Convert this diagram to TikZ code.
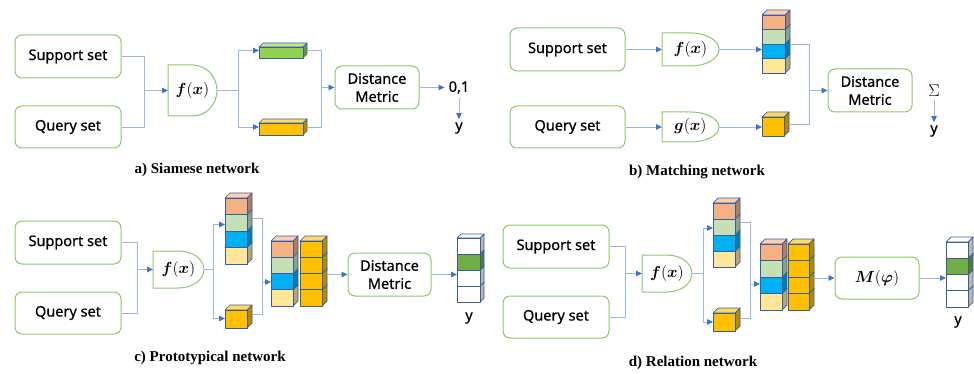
\RequirePackage{fix-cm}
\documentclass[tikz,border=0pt]{standalone}
\usepackage{amsmath}
\usepackage{fontspec}
\newfontfamily\labelfont[FakeBold=0.6]{Noto Sans}
\newfontfamily\capfont{Liberation Serif}
\usetikzlibrary{arrows.meta}

\definecolor{boxgreen}{HTML}{8FC66B}
\definecolor{lineblue}{HTML}{9DB6E2}
\definecolor{tipblue}{HTML}{4472C4}
\definecolor{edgeblue}{HTML}{3B5C9C}
\definecolor{salmon}{HTML}{F4B183}
\definecolor{sage}{HTML}{C5E0B4}
\definecolor{sky}{HTML}{00B0F0}
\definecolor{cream}{HTML}{FFE699}
\definecolor{amber}{HTML}{FFC000}
\definecolor{barGreen}{HTML}{92D050}
\definecolor{cellGreen}{HTML}{70AD47}

\tikzset{
  setbox/.style={draw=boxgreen, line width=1pt, rounded corners=7pt, fill=white,
    align=center, inner sep=0pt, font=\labelfont\fontsize{14.5}{18}\selectfont},
  gatefrm/.style={draw=boxgreen, line width=1pt, fill=white},
  mathlbl/.style={font=\fontsize{16}{19}\selectfont},
  plain/.style={inner sep=3pt, font=\labelfont\fontsize{14.5}{18}\selectfont},
  outy/.style={inner sep=3pt, font=\labelfont\bfseries\fontsize{14.5}{18}\selectfont},
  caption/.style={inner sep=0pt, font=\capfont\bfseries\fontsize{15}{18}\selectfont},
  conn/.style={draw=lineblue, line width=0.9pt},
  arr/.style={conn, -{Triangle[length=6pt,width=5.5pt,color=tipblue]}},
  cubeline/.style={draw=edgeblue, line width=0.7pt, line join=round},
  hold/.style={inner sep=0pt, outer sep=0pt, draw=none},
}

% D-shaped function block: name, left, top, right, bottom, label
\newcommand\gatebox[6]{%
  \pgfmathsetmacro\gmid{(#2+#4)/2}%
  \pgfmathsetmacro\grx{(#4-#2)/2}%
  \pgfmathsetmacro\gry{(#5-#3)/2}%
  \pgfmathsetmacro\gcy{(#3+#5)/2}%
  \pgfmathsetmacro\gw{#4-#2}%
  \pgfmathsetmacro\gh{#5-#3}%
  \draw[gatefrm] (#2,#3) -- (\gmid,#3)
    arc[start angle=90, end angle=-90, x radius=\grx pt, y radius=\gry pt]
    -- (#2,#5) -- cycle;
  \node[hold, mathlbl, minimum width=\gw pt, minimum height=\gh pt] (#1) at (\gmid,\gcy) {#6};
}

% one cube: left, top, width, height, depth, colour
\newcommand\cubeat[6]{%
  \filldraw[cubeline, fill=#6!60!white] (#1,#2) -- ++(#5,-#5) -- ++(#3,0) -- ++(-#5,#5) -- cycle;
  \filldraw[cubeline, fill=#6!72!black] (#1+#3,#2) -- ++(#5,-#5) -- ++(0,#4) -- ++(-#5,#5) -- cycle;
  \filldraw[cubeline, fill=#6] (#1,#2) rectangle ++(#3,#4);
}

% column of four cubes, colours listed top to bottom
\newcommand\colstack[9]{%
  \cubeat{#1}{#2+3*#4}{#3}{#4}{#5}{#9}
  \cubeat{#1}{#2+2*#4}{#3}{#4}{#5}{#8}
  \cubeat{#1}{#2+#4}{#3}{#4}{#5}{#7}
  \cubeat{#1}{#2}{#3}{#4}{#5}{#6}
}

\begin{document}
\begin{tikzpicture}[x=1pt,y=-1pt]
\useasboundingbox[fill=white] (0,0) rectangle (974,374);

% ---------------- a) Siamese network ----------------
\node[setbox, minimum width=106pt, minimum height=43pt] (sa) at (68,56.5) {Support set};
\node[setbox, minimum width=106pt, minimum height=42pt] (qa) at (68,127) {Query set};
\gatebox{fa}{168}{65}{217}{116}{$\boldsymbol{f}(\boldsymbol{x})$}
\cubeat{259}{47}{44}{11}{4}{barGreen}
\node[hold, minimum width=48pt, minimum height=15pt] (ga) at (283,50.5) {};
\cubeat{259}{123}{44}{12}{4}{amber}
\node[hold, minimum width=48pt, minimum height=16pt] (oa) at (283,127) {};
\node[setbox, minimum width=84pt, minimum height=43pt] (dma) at (377,87.5) {Distance\\Metric};
\node[plain, inner sep=4pt] (outa) at (459,87.5) {0,1};
\node[outy] (ya) at (459,128) {y};
\node[caption] (capa) at (197,170) {a) Siamese network};

\coordinate (ja) at (144,90.5);
\draw[conn] (sa.east) -| (ja);
\draw[conn] (qa.east) -| (ja);
\draw[arr] (ja) -- (fa.west);
\coordinate (jb) at (238,90.5);
\draw[conn] (fa.east) -- (jb);
\draw[arr] (jb) |- (ga.west);
\draw[arr] (jb) |- (oa.west);
\coordinate (jc) at (321,87.5);
\draw[conn] (ga.east) -| (jc);
\draw[conn] (oa.east) -| (jc);
\draw[arr] (jc) -- (dma.west);
\draw[arr] (dma.east) -- (outa.west);
\draw[arr] (outa.south) -- (ya.north);

% ---------------- b) Matching network ----------------
\node[setbox, minimum width=115pt, minimum height=43pt] (sb) at (567.5,49.5) {Support set};
\node[setbox, minimum width=115pt, minimum height=42pt] (qb) at (567.5,127) {Query set};
\gatebox{fb}{662}{33}{719}{66}{$\boldsymbol{f}(\boldsymbol{x})$}
\gatebox{gb}{662}{112}{719}{142}{$\boldsymbol{g}(\boldsymbol{x})$}
\colstack{762}{15}{23}{14.5}{5}{salmon}{sage}{sky}{cream}
\node[hold, minimum width=28pt, minimum height=63pt] (stb) at (776,41.5) {};
\cubeat{762}{117}{22}{19}{5}{amber}
\node[hold, minimum width=27pt, minimum height=24pt] (ob) at (775.5,124) {};
\node[setbox, minimum width=84pt, minimum height=43pt] (dmb) at (870,90.5) {Distance\\Metric};
\node[inner sep=3pt, font=\fontsize{17}{20}\selectfont] (sig) at (934,91) {$\Sigma$};
\node[outy] (yb) at (934,131) {y};
\node[caption] (capb) at (697,172) {b) Matching network};

\draw[arr] (sb.east) -- (fb.west);
\draw[arr] (qb.east) -- (gb.west);
\draw[arr] (fb.east) -- (fb.east -| stb.west);
\draw[arr] (gb.east) -- (gb.east -| ob.west);
\coordinate (jd) at (809,90.5);
\draw[conn] ([yshift=-3pt]stb.east) -| (jd);
\draw[conn] (ob.east) -| (jd);
\draw[arr] (jd) -- (dmb.west);
\draw[arr] (sig.south) -- (yb.north);

% ---------------- c) Prototypical network ----------------
\node[setbox, minimum width=106pt, minimum height=43pt] (sc) at (68,242.5) {Support set};
\node[setbox, minimum width=106pt, minimum height=42pt] (qc) at (68,313) {Query set};
\gatebox{fc}{153}{251}{204}{288}{$\boldsymbol{f}(\boldsymbol{x})$}
\colstack{225}{198}{22}{16.5}{5}{salmon}{sage}{sky}{cream}
\node[hold, minimum width=27pt, minimum height=71pt] (stc) at (238.5,228.5) {};
\cubeat{225}{310}{22}{18}{5}{amber}
\node[hold, minimum width=27pt, minimum height=23pt] (occ) at (238.5,316.5) {};
\colstack{271}{241}{22}{16.25}{5}{salmon}{sage}{sky}{cream}
\colstack{300}{241}{22}{16.25}{5}{amber}{amber}{amber}{amber}
\node[hold, minimum width=56pt, minimum height=70pt] (bigc) at (299,271) {};
\node[setbox, minimum width=83pt, minimum height=43pt] (dmc) at (389.5,274.5) {Distance\\Metric};
\colstack{457}{238}{23}{16}{4}{white}{cellGreen}{white}{white}
\node[hold, minimum width=27pt, minimum height=68pt] (vecc) at (470.5,268) {};
\node[outy] (yc) at (469,318) {y};
\node[caption] (capc) at (210,358) {c) Prototypical network};

\coordinate (jc1) at (137,269.5);
\draw[conn] (sc.east) -| (jc1);
\draw[conn] (qc.east) -| (jc1);
\draw[arr] (jc1) -- (fc.west);
\coordinate (jc2) at (213,269.5);
\draw[conn] (fc.east) -- (jc2);
\draw[arr] (jc2) |- ([yshift=4pt]stc.west);
\draw[arr] (jc2) |- ([yshift=-2pt]occ.west);
\coordinate (jc3) at (262,282);
\draw[conn] ([yshift=10pt]stc.east) -| (jc3);
\draw[conn] ([yshift=2pt]occ.east) -| (jc3);
\draw[arr] (jc3) -- (jc3 -| bigc.west);
\draw[arr] (bigc.east |- dmc.west) -- (dmc.west);
\draw[arr] (dmc.east) -- (dmc.east -| vecc.west);

% ---------------- d) Relation network ----------------
\node[setbox, minimum width=106pt, minimum height=43pt] (sd) at (556,246.5) {Support set};
\node[setbox, minimum width=106pt, minimum height=42pt] (qd) at (556,317) {Query set};
\gatebox{fd}{642}{255}{692}{292}{$\boldsymbol{f}(\boldsymbol{x})$}
\colstack{713}{203}{22}{16}{5}{salmon}{sage}{sky}{cream}
\node[hold, minimum width=27pt, minimum height=69pt] (std) at (726.5,232.5) {};
\cubeat{713}{313}{22}{18}{5}{amber}
\node[hold, minimum width=27pt, minimum height=23pt] (ocd) at (726.5,319.5) {};
\colstack{760}{244}{22}{16.5}{5}{salmon}{sage}{sky}{cream}
\colstack{788}{244}{21}{16.5}{5}{amber}{amber}{amber}{amber}
\node[hold, minimum width=54pt, minimum height=71pt] (bigd) at (787,274.5) {};
\node[setbox, mathlbl, minimum width=84pt, minimum height=42pt] (md) at (877,278) {$\boldsymbol{M}(\boldsymbol{\varphi})$};
\colstack{946}{242}{22}{16.25}{5}{white}{cellGreen}{white}{white}
\node[hold, minimum width=27pt, minimum height=70pt] (vecd) at (959.5,272) {};
\node[outy] (yd) at (958,322) {y};
\node[caption] (capd) at (693,363) {d) Relation network};

\coordinate (jd1) at (625,273.5);
\draw[conn] (sd.east) -| (jd1);
\draw[conn] (qd.east) -| (jd1);
\draw[arr] (jd1) -- (fd.west);
\coordinate (jd2) at (703,273.5);
\draw[conn] (fd.east) -- (jd2);
\draw[arr] (jd2) |- ([yshift=4.5pt]std.west);
\draw[arr] (jd2) |- ([yshift=-2.5pt]ocd.west);
\coordinate (jd3) at (750,284);
\draw[conn] ([yshift=10pt]std.east) -| (jd3);
\draw[conn] ([yshift=1.5pt]ocd.east) -| (jd3);
\draw[arr] (jd3) -- (jd3 -| bigd.west);
\draw[arr] (bigd.east |- md.west) -- (md.west);
\draw[arr] (md.east) -- (md.east -| vecd.west);
\end{tikzpicture}
\end{document}
